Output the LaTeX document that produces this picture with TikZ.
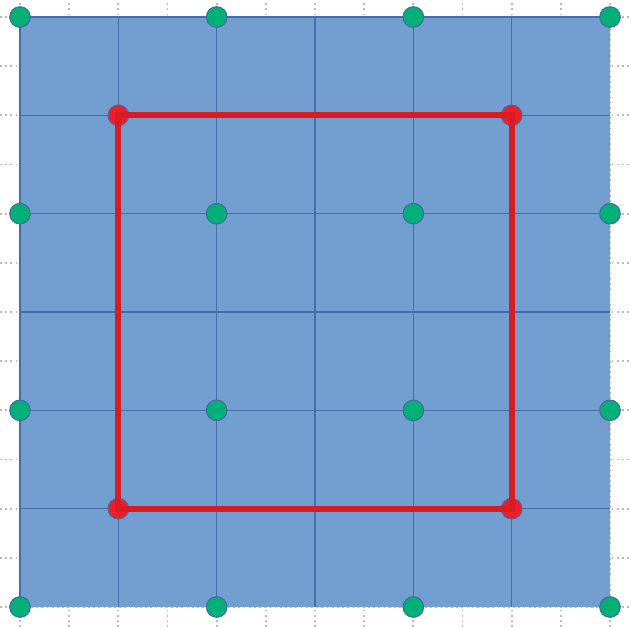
\documentclass[tikz,border=0pt]{standalone}
\usepackage{tikz}
\definecolor{fillblue}{RGB}{114,159,207}
\definecolor{lineblue}{RGB}{68,110,170}
\definecolor{dotgreen}{RGB}{0,176,118}
\definecolor{dotred}{RGB}{238,30,40}
\definecolor{linered}{RGB}{215,28,36}
\definecolor{dotline}{RGB}{70,105,165}
\tikzset{
  bggrid/.style={gray!55, line width=0.5pt, dash pattern=on 0.5pt off 1pt},
  cellline/.style={lineblue, line width=0.42pt},
  greendot/.style={circle, fill=dotgreen, draw=dotline, line width=0.3pt, minimum size=0.21cm, inner sep=0pt},
  reddot/.style={circle, fill=dotred, draw=dotline, line width=0.3pt, minimum size=0.21cm, inner sep=0pt},
  redsquare/.style={linered, line width=1.7pt, line join=miter}
}
\begin{document}
\begin{tikzpicture}
\useasboundingbox (-0.2034,-0.2034) rectangle (6.2136,6.1729);
% background dotted grid
\foreach \i in {0,0.5,...,6} {
  \draw[bggrid] (\i,-0.2034) -- (\i,6.1729);
  \draw[bggrid] (-0.2034,\i) -- (6.2136,\i);
}
% blue square
\fill[fillblue] (0,0) rectangle (6,6);
\foreach \i in {0,...,5} {
  \draw[cellline] (\i,0) -- (\i,6);
  \draw[cellline] (0,6-\i) -- (6,6-\i);
}
% green dots
\foreach \x in {0,2,4,6} {
  \foreach \y in {0,2,4,6} {
    \node[greendot] (g\x\y) at (\x,\y) {};
  }
}
% red dots
\node[reddot] (r1) at (1,5) {};
\node[reddot] (r2) at (5,5) {};
\node[reddot] (r3) at (5,1) {};
\node[reddot] (r4) at (1,1) {};
\draw[redsquare] (r1.center) -- (r2.center) -- (r3.center) -- (r4.center) -- cycle;
\end{tikzpicture}
\end{document}
